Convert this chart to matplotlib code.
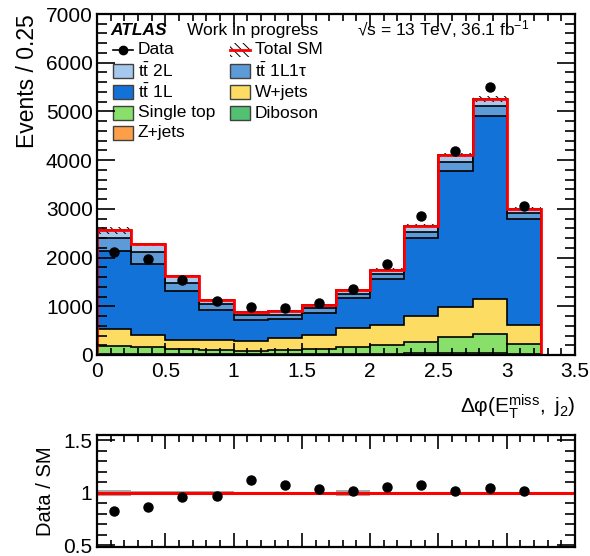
import numpy as np
import matplotlib
matplotlib.use("Agg")
import matplotlib.pyplot as plt
from matplotlib.patches import Rectangle
from matplotlib.lines import Line2D
from matplotlib.ticker import MultipleLocator, FixedLocator

plt.rcParams['font.family'] = ['Liberation Sans', 'DejaVu Sans']
plt.rcParams['mathtext.fontset'] = 'custom'
plt.rcParams['mathtext.rm'] = 'Liberation Sans'
plt.rcParams['mathtext.it'] = 'Liberation Sans:italic'
plt.rcParams['hatch.linewidth'] = 0.7

# Binning of delta-phi(MET, j2)
bin_edges = np.arange(0.0, 3.25 + 0.001, 0.25)

# Background yields per bin (events / 0.25)
zjets        = np.array([5, 5, 4, 3, 3, 3, 4, 5, 6, 8, 8, 8, 5])
diboson      = np.array([15, 14, 12, 10, 8, 9, 12, 15, 20, 32, 32, 32, 20])
single_top   = np.array([157, 144, 106, 82, 70, 83, 113, 140, 185, 230, 335, 398, 207])
wjets        = np.array([364, 254, 196, 205, 206, 245, 284, 390, 414, 531, 618, 720, 383])
ttbar_1l     = np.array([1597, 1461, 991, 618, 439, 407, 457, 621, 931, 1591, 2791, 3738, 2182])
ttbar_1l1tau = np.array([268, 227, 178, 123, 89, 82, 103, 90, 109, 138, 186, 219, 110])
ttbar_2l     = np.array([158, 164, 130, 97, 65, 75, 62, 68, 90, 123, 137, 138, 89])

# MC statistical uncertainty on the total SM prediction
sm_err = np.array([70, 30, 22, 15, 11, 11, 13, 36, 22, 33, 45, 55, 35])

# Observed data
data = np.array([2118, 1967, 1549, 1103, 985, 973, 1068, 1350, 1858, 2852, 4190, 5506, 3058])

samples = [
    ("Z+jets", zjets, "#fc9f48"),
    ("Diboson", diboson, "#52c172"),
    ("Single top", single_top, "#88e06a"),
    ("W+jets", wjets, "#fcdc62"),
    (r"t$\bar{\mathrm{t}}$ 1L", ttbar_1l, "#1272d8"),
    (r"t$\bar{\mathrm{t}}$ 1L1τ", ttbar_1l1tau, "#5c9bd7"),
    (r"t$\bar{\mathrm{t}}$ 2L", ttbar_2l, "#a6c8ec"),
]

W, H = 590, 556
fig = plt.figure(figsize=(W / 100, H / 100), dpi=100)

def axes_box(l, r, t, b):
    return [l / W, 1 - b / H, (r - l) / W, (b - t) / H]

ax = fig.add_axes(axes_box(97, 575, 14, 355))
rax = fig.add_axes(axes_box(97, 575, 435, 547))

# Stacked backgrounds, drawn from the largest cumulative down
cums = np.cumsum([s[1] for s in samples], axis=0)
for (name, vals, col), cum in reversed(list(zip(samples, cums))):
    ax.stairs(cum, bin_edges, baseline=0, fill=True, facecolor=col,
              edgecolor='black', linewidth=1.2)

total = cums[-1]

# Uncertainty hatch and total SM outline
ax.stairs(total + sm_err, bin_edges, baseline=total - sm_err, fill=True,
          facecolor='none', edgecolor='black', linewidth=0, hatch='\\\\\\\\')
edges_ext = np.append(bin_edges, 3.5)
ax.stairs(np.append(total, 0), edges_ext, baseline=0, color='red', linewidth=2)

centers = 0.5 * (bin_edges[:-1] + bin_edges[1:])
ax.errorbar(centers, data, yerr=np.sqrt(data), fmt='o', color='black',
            markersize=6.5, elinewidth=1.2, capsize=0, zorder=5)

ax.set_xlim(0, 3.5)
ax.set_ylim(0, 7000)

def style_axis(a, ymaj, ymin, xlen=(9, 5), ylen=(13, 7)):
    a.xaxis.set_major_locator(MultipleLocator(0.5))
    a.xaxis.set_minor_locator(MultipleLocator(0.1))
    a.yaxis.set_major_locator(ymaj)
    a.yaxis.set_minor_locator(ymin)
    a.tick_params(which='both', direction='in', top=True, right=True,
                  width=1.2, labelsize=15)
    a.tick_params(axis='x', which='major', length=xlen[0])
    a.tick_params(axis='x', which='minor', length=xlen[1])
    a.tick_params(axis='y', which='major', length=ylen[0])
    a.tick_params(axis='y', which='minor', length=ylen[1])
    for sp in a.spines.values():
        sp.set_linewidth(1.6)

style_axis(ax, MultipleLocator(1000), MultipleLocator(200))
ax.tick_params(axis='x', pad=5)
ax.tick_params(axis='y', pad=3)
ax.set_xticks(np.arange(0, 3.51, 0.5))
ax.set_xticklabels(['0', '0.5', '1', '1.5', '2', '2.5', '3', '3.5'])

ax.set_ylabel('Events / 0.25', fontsize=16.5, loc='top', labelpad=5)
fig.text(575 / W, 1 - 407 / H, r'$\mathrm{Δφ(E_{T}^{miss},\ j_{2})}$',
         fontsize=15, ha='right', va='center')

# Header text
def ax_xy(px, py):
    return (px - 97) / 478, (355 - py) / 341

ax.text(*ax_xy(110, 35), 'ATLAS', transform=ax.transAxes, fontsize=12.5,
        fontweight='bold', fontstyle='italic', va='baseline')
ax.text(*ax_xy(187, 35), 'Work in progress', transform=ax.transAxes,
        fontsize=12.5, va='baseline')
ax.text(*ax_xy(357, 35), r'√s = 13 TeV, 36.1 fb$^{-1}$', transform=ax.transAxes,
        fontsize=12.5, va='baseline')

# Legend
legend_rows = [
    ('data', 'Data', None, 113, 50),
    ('band', 'Total SM', None, 230, 50),
    ('box', samples[6][0], samples[6][2], 113, 71),
    ('box', samples[5][0], samples[5][2], 230, 71),
    ('box', samples[4][0], samples[4][2], 113, 92),
    ('box', samples[3][0], samples[3][2], 230, 92),
    ('box', samples[2][0], samples[2][2], 113, 113),
    ('box', samples[1][0], samples[1][2], 230, 113),
    ('box', samples[0][0], samples[0][2], 113, 133),
]
bw, bh = 20 / 478, 14 / 341
for kind, label, col, px, py in legend_rows:
    x0, yc = ax_xy(px, py)
    if kind == 'box':
        ax.add_patch(Rectangle((x0, yc - bh / 2), bw, bh, transform=ax.transAxes,
                               facecolor=col, edgecolor='#404040', linewidth=1.0,
                               clip_on=False))
    elif kind == 'data':
        ax.add_line(Line2D([x0, x0 + bw], [yc, yc], transform=ax.transAxes,
                           color='black', linewidth=1.2))
        ax.add_line(Line2D([x0 + bw / 2], [yc], transform=ax.transAxes,
                           color='black', marker='o', markersize=6))
    else:
        ax.add_patch(Rectangle((x0, yc - bh / 2), bw, bh, transform=ax.transAxes,
                               facecolor='none', edgecolor='black', linewidth=0,
                               hatch='\\\\\\\\', clip_on=False))
        ax.add_line(Line2D([x0, x0 + bw], [yc, yc], transform=ax.transAxes,
                           color='red', linewidth=2))
    ax.text(x0 + bw + 5 / 478, yc, label, transform=ax.transAxes,
            fontsize=12.5, va='center', ha='left')

# Ratio panel
ratio = data / total
ratio_err = np.sqrt(data) / total
rel_err = sm_err / total
rax.stairs(1 + rel_err, bin_edges, baseline=1 - rel_err, fill=True,
           facecolor='#a8a8a8', edgecolor='none')
rax.axhline(1.0, color='red', linewidth=2.2)
rax.errorbar(centers, ratio, yerr=ratio_err, fmt='o', color='black',
             markersize=6.5, elinewidth=1.2, capsize=0, zorder=5)
rax.set_xlim(0, 3.5)
rax.set_ylim(0.485, 1.55)
style_axis(rax, FixedLocator([0.5, 1.0, 1.5]), MultipleLocator(0.1),
           xlen=(10, 5), ylen=(13, 7))
rax.set_yticks([0.5, 1.0, 1.5])
rax.set_yticklabels(['0.5', '1', '1.5'])
rax.tick_params(axis='x', labelbottom=False)
rax.set_ylabel('Data / SM', fontsize=14.5, labelpad=6)

fig.savefig('out.png', dpi=100)
